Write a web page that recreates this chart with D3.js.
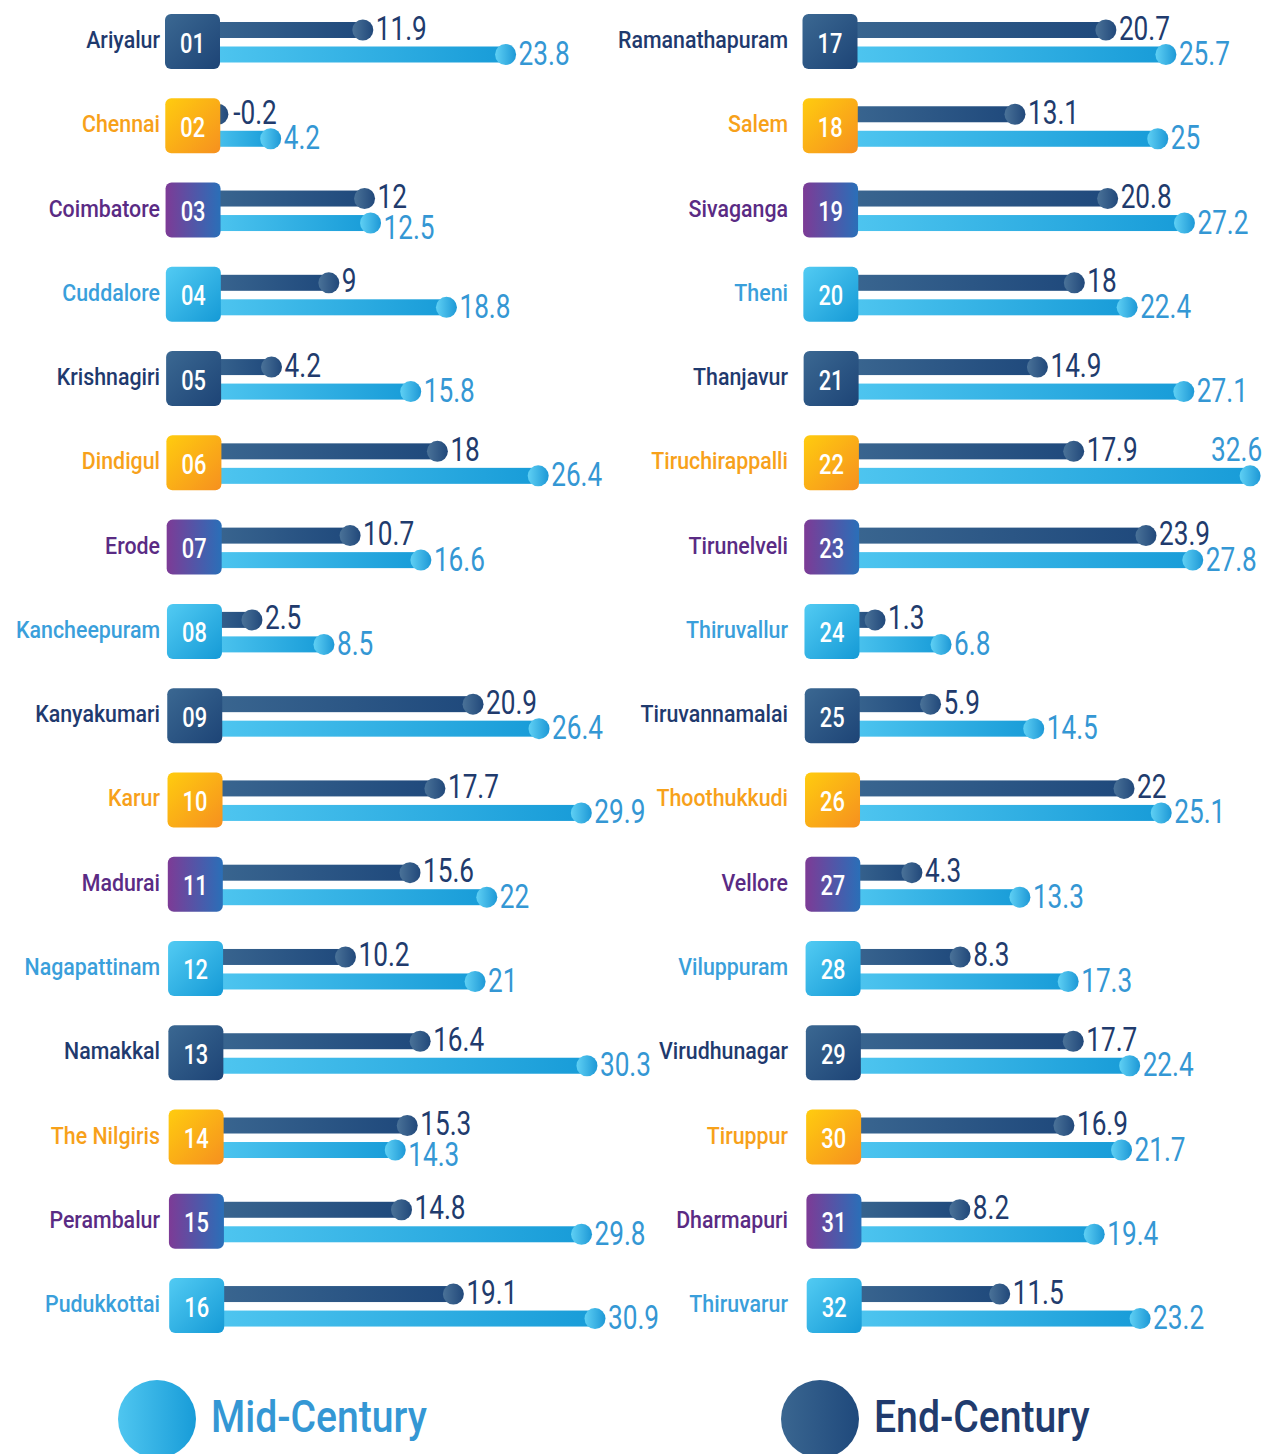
<!DOCTYPE html>
<html>
<head>
<meta charset="utf-8">
<script src="https://cdn.jsdelivr.net/npm/d3@7"></script>
<style>
  html, body { margin: 0; padding: 0; background: #ffffff; }
  svg { display: block; }
  text { font-family: Roboto, "Noto Sans", sans-serif; }
</style>
</head>
<body>
<div id="chart"></div>
<script>
// District names, in badge order 01–32
const districts = [
  "Ariyalur", "Chennai", "Coimbatore", "Cuddalore", "Krishnagiri", "Dindigul", "Erode", "Kancheepuram",
  "Kanyakumari", "Karur", "Madurai", "Nagapattinam", "Namakkal", "The Nilgiris", "Perambalur", "Pudukkottai",
  "Ramanathapuram", "Salem", "Sivaganga", "Theni", "Thanjavur", "Tiruchirappalli", "Tirunelveli", "Thiruvallur",
  "Tiruvannamalai", "Thoothukkudi", "Vellore", "Viluppuram", "Virudhunagar", "Tiruppur", "Dharmapuri", "Thiruvarur"
];
const badgeCodes = [
  "01","02","03","04","05","06","07","08","09","10","11","12","13","14","15","16",
  "17","18","19","20","21","22","23","24","25","26","27","28","29","30","31","32"
];
// End-Century series (dark bars, upper)
const endCentury = [
  11.9, -0.2, 12, 9, 4.2, 18, 10.7, 2.5, 20.9, 17.7, 15.6, 10.2, 16.4, 15.3, 14.8, 19.1,
  20.7, 13.1, 20.8, 18, 14.9, 17.9, 23.9, 1.3, 5.9, 22, 4.3, 8.3, 17.7, 16.9, 8.2, 11.5
];
// Mid-Century series (light bars, lower)
const midCentury = [
  23.8, 4.2, 12.5, 18.8, 15.8, 26.4, 16.6, 8.5, 26.4, 29.9, 22, 21, 30.3, 14.3, 29.8, 30.9,
  25.7, 25, 27.2, 22.4, 27.1, 32.6, 27.8, 6.8, 14.5, 25.1, 13.3, 17.3, 22.4, 21.7, 19.4, 23.2
];
const legendLabels = ["Mid-Century", "End-Century"];

const W = 1271, H = 1454;
const svg = d3.select("#chart").append("svg")
  .attr("width", W).attr("height", H).attr("viewBox", `0 0 ${W} ${H}`);

const defs = svg.append("defs");
function grad(id, c0, c1, x2 = 1, y2 = 0) {
  const g = defs.append("linearGradient").attr("id", id)
    .attr("x1", 0).attr("y1", 0).attr("x2", x2).attr("y2", y2);
  g.append("stop").attr("offset", "0%").attr("stop-color", c0);
  g.append("stop").attr("offset", "100%").attr("stop-color", c1);
}
grad("darkBar", "#3a6690", "#1f497c");
grad("lightBar", "#4fc6f0", "#189cd8");
grad("darkDot", "#4a7298", "#21487a");
grad("lightDot", "#5fd0f4", "#1d98d6");
grad("badge0", "#3b6892", "#1d4476", 1, 1);
grad("badge1", "#ffcc0f", "#f6901f", 1, 1);
grad("badge2", "#7d3b96", "#2a6fb8", 1, 0);
grad("badge3", "#52cbf3", "#159ad6", 1, 1);

const nameColors = ["#1f3a6e", "#f7a11a", "#5a2b84", "#3a9fdb"];
const darkText = "#213b6d";
const lightText = "#3497d4";

// Layout
const perCol = 16;
const badgeSize = 55;
const badgeX = [165, 802.5];
const nameRight = [160, 788];
const drift = 0.28;           // slight per-row horizontal drift of the layout
const y = d3.scalePoint().domain(d3.range(perCol)).range([14, 14 + 15 * 84.27]);
const x = d3.scaleLinear().domain([0, 33]).range([0, 396]);

const valueSx = 0.77, nameSx = 0.89, codeSx = 0.78;

const rows = districts.map((name, i) => ({
  name, code: badgeCodes[i], end: endCentury[i], mid: midCentury[i],
  col: Math.floor(i / perCol), row: i % perCol, kind: i % 4
}));

const row = svg.selectAll("g.row").data(rows).join("g")
  .attr("class", "row")
  .attr("transform", d => `translate(${badgeX[d.col] + d.row * drift + badgeSize},${y(d.row)})`);

// bars
function barRect(sel, key, yTop, fill) {
  sel.append("rect")
    .attr("x", d => d[key] >= 0 ? x(0) - 12 : x(d[key]))
    .attr("y", yTop)
    .attr("width", d => d[key] >= 0 ? x(d[key]) - x(0) + 12 : x(0) - x(d[key]))
    .attr("height", 16)
    .attr("fill", fill);
}
barRect(row, "end", 8, "url(#darkBar)");
barRect(row, "mid", 32.5, "url(#lightBar)");

row.append("circle").attr("cx", d => x(d.end)).attr("cy", 16).attr("r", 10.5).attr("fill", "url(#darkDot)");
row.append("circle").attr("cx", d => x(d.mid)).attr("cy", 40.5).attr("r", 10.5).attr("fill", "url(#lightDot)");

// badges
row.append("rect")
  .attr("x", -badgeSize).attr("y", 0).attr("width", badgeSize).attr("height", badgeSize)
  .attr("rx", 6).attr("fill", d => `url(#badge${d.kind})`);
row.append("g")
  .attr("transform", `translate(${-badgeSize / 2},38.5)`)
  .append("text")
  .attr("transform", `scale(${codeSx},1)`)
  .attr("text-anchor", "middle")
  .attr("font-size", 28).attr("font-weight", 500).attr("fill", "#ffffff")
  .text(d => d.code);

// value labels sit right of the dot (or of the badge, for a negative value)
const labelX = v => Math.max(x(v), x(0)) + 13;
function valueLabel(sel, key, base, color) {
  const g = sel.append("g")
    .attr("transform", d => `translate(${labelX(d[key])},${base})`);
  g.append("text")
    .attr("transform", `scale(${valueSx},1)`)
    .attr("font-size", 34).attr("font-weight", 400).attr("fill", color)
    .text(d => String(d[key]));
  return g;
}
const endLabels = valueLabel(row, "end", 25.5, darkText);
const midLabels = valueLabel(row, "mid", 51, lightText);

const endWidth = new Map();
endLabels.each(function (d) {
  endWidth.set(d.code, d3.select(this).select("text").node().getComputedTextLength() * valueSx);
});

midLabels.each(function (d) {
  const t = d3.select(this).select("text");
  const w = t.node().getComputedTextLength() * valueSx;
  const absX = badgeX[d.col] + d.row * drift + badgeSize + labelX(d.mid);
  if (absX + w > W - 4) {
    // runs past the right edge: sit above the end of the bar instead
    d3.select(this).attr("transform", `translate(${x(d.mid) + 12},25.5)`);
    t.attr("text-anchor", "end");
  } else {
    // nudge down when it sits right under the upper label
    const endRight = labelX(d.end) + endWidth.get(d.code);
    if (endRight - labelX(d.mid) > 10) {
      d3.select(this).attr("transform", `translate(${labelX(d.mid)},56)`);
    }
  }
});

// district names
svg.selectAll("g.name").data(rows).join("g")
  .attr("class", "name")
  .attr("transform", d => `translate(${nameRight[d.col]},${y(d.row) + 34})`)
  .append("text")
  .attr("transform", `scale(${nameSx},1)`)
  .attr("text-anchor", "end")
  .attr("font-size", 24).attr("font-weight", 500)
  .attr("fill", d => nameColors[d.kind])
  .text(d => d.name);

// legend
const legend = svg.selectAll("g.legend").data(legendLabels).join("g")
  .attr("class", "legend")
  .attr("transform", (d, i) => `translate(${[157, 820][i]},1419)`);
legend.append("circle").attr("r", 39)
  .attr("fill", (d, i) => i === 0 ? "url(#lightBar)" : "url(#darkBar)");
legend.append("g").attr("transform", "translate(54,13)")
  .append("text")
  .attr("transform", "scale(0.87,1)")
  .attr("font-size", 45).attr("font-weight", 500)
  .attr("fill", (d, i) => i === 0 ? lightText : darkText)
  .text(d => d);
</script>
</body>
</html>
